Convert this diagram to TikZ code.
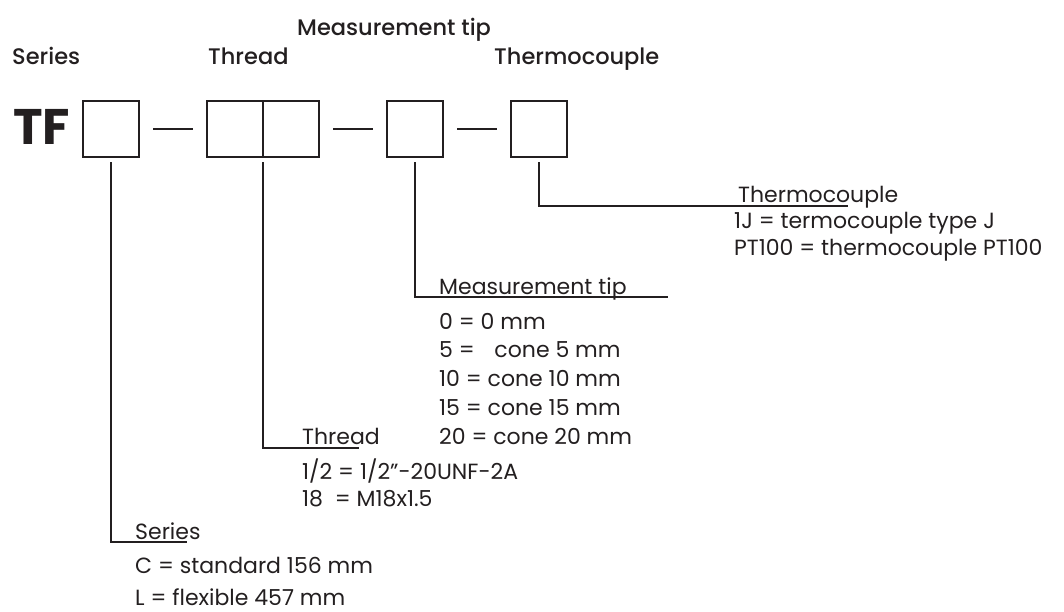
\documentclass[tikz,border=0pt]{standalone}
\usepackage{fontspec}
\setmainfont{Poppins}
\newfontfamily\headfont{Poppins Medium}
\usetikzlibrary{positioning}
\definecolor{ink}{RGB}{35,31,32}

\begin{document}
\begin{tikzpicture}[
  x=1pt,y=-1pt,
  slot/.style={draw=ink,line width=2pt,minimum width=56pt,minimum height=56pt,inner sep=0pt,outer sep=0pt},
  hyphen/.style={draw=ink,line width=2pt},
  lead/.style={draw=ink,line width=1.6pt},
  head/.style={anchor=base west,inner sep=0pt,text=ink,font=\headfont\fontsize{22.5}{26}\selectfont},
  entry/.style={anchor=base west,inner sep=0pt,text=ink,font=\fontsize{22}{26}\selectfont},
  code/.style={anchor=base west,inner sep=0pt,text=ink,font=\bfseries\fontsize{50}{50}\selectfont}
]
  \useasboundingbox (0,0) rectangle (1064,612);
  % headings
  \node[head] (hser) at (12,65) {Series};
  \node[head] (hthr) at (208,65) {Thread};
  \node[head] (htip) at (297,36) {Measurement tip};
  \node[head] (htc) at (494,65) {Thermocouple};
  % code boxes
  \node[code] (tf) at (13,145) {TF};
  \node[slot] (b1) at (111,129.5) {};
  \node[slot,right=68pt of b1] (b2a) {};
  \node[slot,right=0pt of b2a] (b2b) {};
  \node[slot,right=68pt of b2b] (b4) {};
  \node[slot,right=68pt of b4] (b5) {};
  \draw[hyphen] ([xshift=14pt]b1.east) -- ([xshift=-14pt]b2a.west);
  \draw[hyphen] ([xshift=14pt]b2b.east) -- ([xshift=-14pt]b4.west);
  \draw[hyphen] ([xshift=14pt]b4.east) -- ([xshift=-14pt]b5.west);
  % leader ends
  \coordinate (serend) at (187,542);
  \coordinate (thrend) at (359,448);
  \coordinate (tipend) at (668,297);
  \coordinate (tcend) at (848,206);
  \draw[lead] ([yshift=-5pt]b1.south) |- (serend);
  \draw[lead] ([yshift=-5pt]b2a.south east) |- (thrend);
  \draw[lead] ([yshift=-5pt]b4.south) |- (tipend);
  \draw[lead] ([yshift=-5pt]b5.south) |- (tcend);
  % thermocouple
  \node[entry] (tc) at (738,203) {Thermocouple};
  \node[entry] (tc1) at (734,229) {1J = termocouple type J};
  \node[entry] (tc2) at (734,255) {PT100 = thermocouple PT100};
  % measurement tip
  \node[entry] (tip) at (439,294) {Measurement tip};
  \node[entry] (tip0) at (439,329) {0 = 0 mm};
  \node[entry] (tip5) at (439,357) {5 = \phantom{0}cone 5 mm};
  \node[entry] (tip10) at (439,386) {10 = cone 10 mm};
  \node[entry] (tip15) at (439,415) {15 = cone 15 mm};
  \node[entry] (tip20) at (439,444) {20 = cone 20 mm};
  % thread
  \node[entry] (thr) at (302,444) {Thread};
  \node[entry] (thr1) at (302,479) {1/2 = 1/2”-20UNF-2A};
  \node[entry] (thr2) at (302,506) {18\ \ = M18x1.5};
  % series
  \node[entry] (ser) at (135,539) {Series};
  \node[entry] (serc) at (135,573) {C = standard 156 mm};
  \node[entry] (serl) at (135,605) {L = flexible 457 mm};
\end{tikzpicture}
\end{document}
